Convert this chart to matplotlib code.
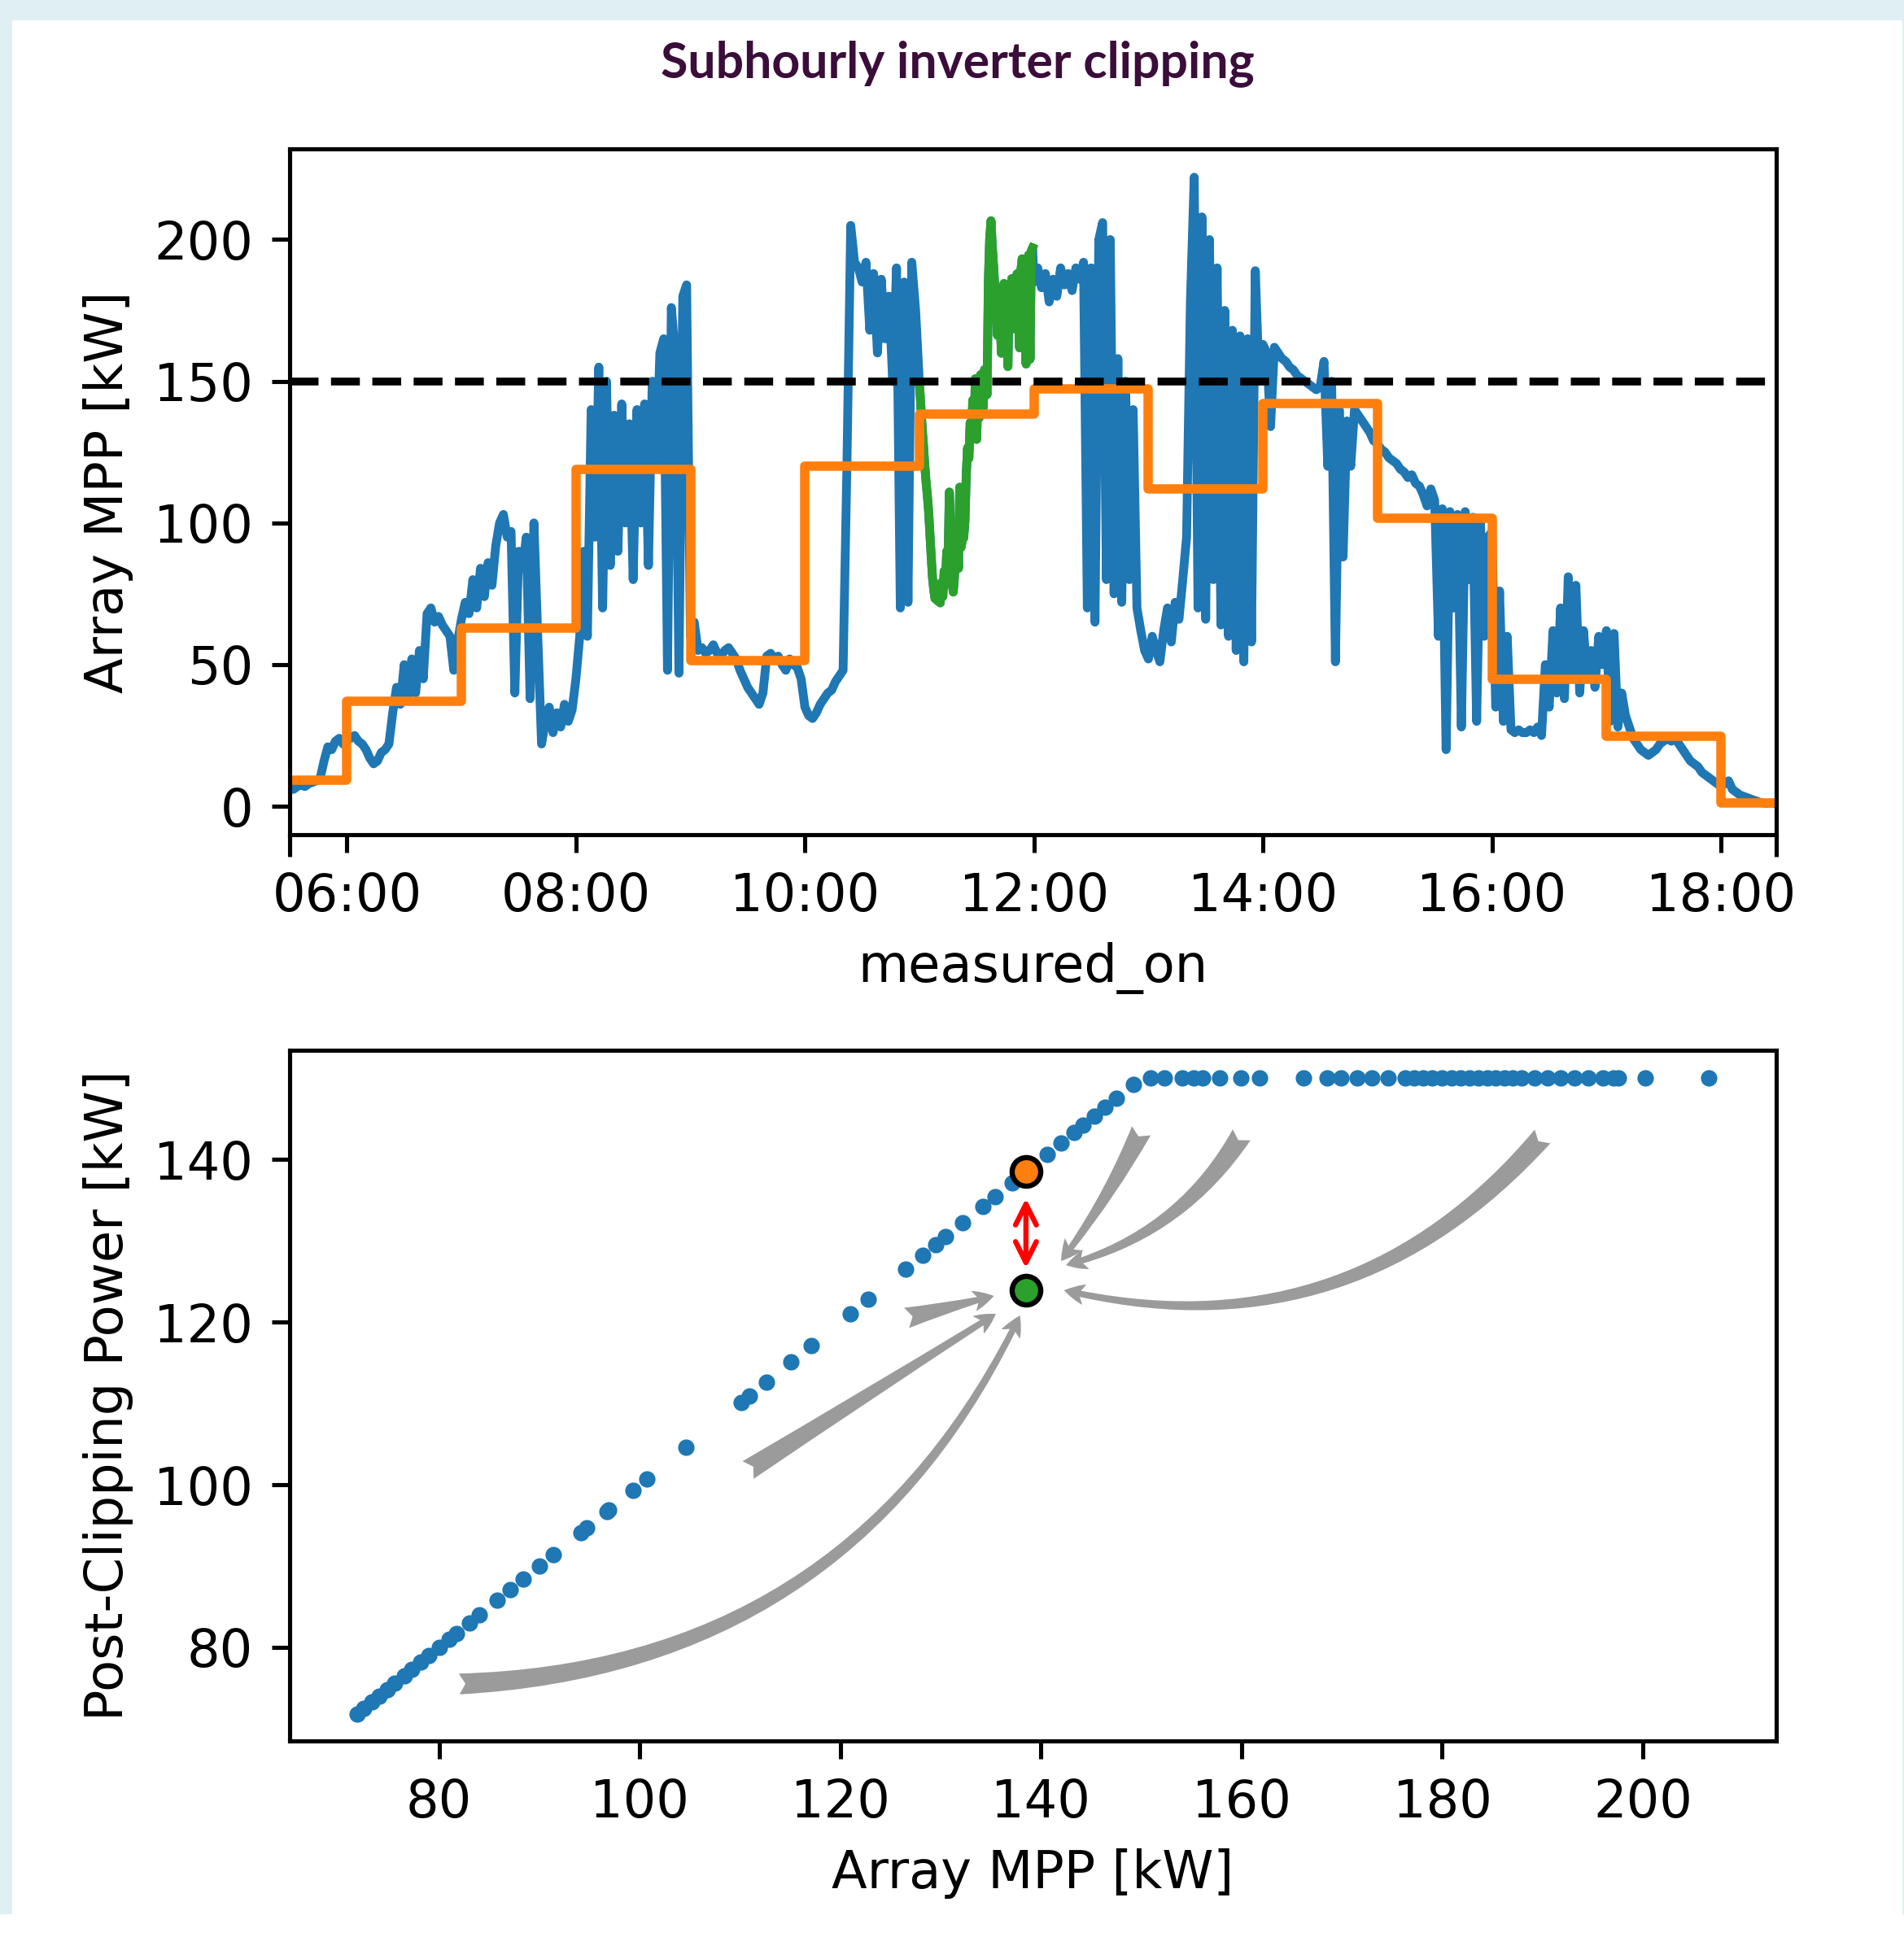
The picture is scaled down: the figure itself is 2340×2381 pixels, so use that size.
import numpy as np
import pandas as pd
import matplotlib
matplotlib.use('Agg')
import matplotlib.pyplot as plt
import matplotlib.dates as mdates
from matplotlib.patches import Rectangle
from matplotlib.ticker import NullFormatter

###_Data_###
CLIP_LIMIT = 150  # inverter AC limit [kW]

# Array MPP [kW], one sample every 2 minutes
mpp_0530 = [6.5, 6, 7, 7.5, 7, 8, 8.5, 9, 10, 16, 21, 20, 23, 24, 22]
mpp_06 = [25, 24, 25, 23, 22, 20, 17, 15, 16, 19, 20, 22, 33, 42, 36, 50, 38, 52, 40, 55,
          45, 68, 70, 65, 67, 64, 62, 60, 48, 58]
mpp_07 = [66, 72, 68, 80, 70, 84, 74, 86, 78, 92, 100, 103, 95, 97, 40, 90, 84, 95, 38, 100,
          60, 22, 30, 35, 26, 33, 28, 36, 30, 34]
mpp_08 = [45, 60, 90, 60, 140, 95, 155, 70, 150, 85, 138, 90, 142, 100, 135, 80, 140, 100, 142, 85,
          150, 120, 160, 165, 48, 176, 160, 47, 180, 184]
mpp_09 = [60, 65, 55, 56, 54, 55, 57, 54, 53, 55, 56, 54, 52, 48, 45, 42, 40, 38, 36, 40,
          53, 54, 52, 53, 50, 48, 52, 50, 49, 45]
mpp_10 = [35, 32, 31, 33, 36, 38, 40, 41, 44, 46, 48, 120, 205, 192, 190, 185, 192, 168, 188, 160,
          186, 165, 180, 150, 190, 70, 185, 72, 192, 175]
mpp_12 = [185, 190, 183, 188, 178, 186, 180, 190, 184, 188, 182, 190, 186, 192, 70, 190, 65, 200, 206, 80,
          200, 75, 158, 72, 150, 80, 140, 70, 62, 55]
mpp_13 = [52, 60, 55, 51, 62, 70, 58, 72, 66, 80, 95, 178, 222, 70, 208, 66, 200, 80, 190, 64,
          175, 60, 168, 55, 166, 51, 165, 58, 189, 150]
mpp_14 = [163, 160, 134, 162, 160, 158, 157, 155, 154, 152, 151, 150, 149, 148, 147, 148, 157, 120, 150, 51,
          140, 88, 136, 120, 140, 138, 136, 134, 132, 129]
mpp_15 = [128, 126, 125, 123, 122, 121, 119, 118, 116, 117, 114, 113, 110, 106, 112, 108, 60, 105, 20, 104,
          70, 103, 28, 104, 80, 102, 30, 100, 60, 95]
mpp_16 = [97, 35, 76, 30, 60, 27, 26, 27, 26, 26, 27, 26, 28, 25, 50, 35, 62, 40, 70, 38,
          81, 45, 78, 40, 62, 45, 55, 42, 60, 50]
mpp_17 = [62, 30, 61, 28, 40, 32, 28, 24, 22, 20, 19, 18, 19, 20, 22, 23, 24, 23, 24, 22,
          20, 18, 16, 15, 14, 12, 11, 10, 9, 8]
mpp_18 = [7, 8, 9, 6, 5, 4, 3.5, 3, 2.5, 2, 1.5, 1.2, 1.0, 1.2, 1.0]

# the highlighted hour 11:00-12:00 (finer samples), also used for the scatter
clip_hour = [149.2, 142.0, 134.2, 128.2, 121.0, 115.1, 110.1, 104.6,
             96.7, 88.4, 81.0, 76.5, 73.3, 74.8, 72.5, 77.3, 71.8, 79.0, 74.0, 83.0, 78.2, 90.0,
             85.8, 110.9, 96.9, 80.0, 75.6, 81.7, 87.1, 99.3, 84.0, 112.6, 91.4, 94.1, 94.7, 100.7,
             117.1, 126.5, 122.8, 135.4, 130.5, 143.3, 132.2, 150.9, 129.5, 146.4, 137.1, 152.3,
             144.2, 140.6, 154.1, 147.5, 145.3, 185.3, 200.2, 206.6, 197.6,
             190.5, 182.7, 176.3, 166.2, 180.0, 173.0, 159.9, 177.2, 184.5, 171.5, 178.1, 155.2,
             181.8, 174.6, 186.2, 179.0, 168.5, 183.6, 187.9, 180.9, 161.8, 189.2, 193.2, 169.9,
             191.8, 156.1, 187.0, 194.6, 157.8, 196.0, 197.1]

# hourly means (orange steps), 05:30, 06:00 ... 18:00
hourly_mean = [9.2, 37.0, 62.9, 119.0, 51.3, 120.1, 138.3, 147.4, 112.0, 142.2, 101.7, 44.8, 24.6, 1.3]

# hourly mean before / after clipping for the 11:00 hour
hour_mean_mpp = 138.5
hour_mean_clipped = 123.9

# helper arrows in the lower panel (tail -> head, curvature)
arrow_tails = [(150.0, 143.5), (160.0, 143.0), (190.0, 142.8), (126.6, 120.5), (110.8, 101.8), (82.0, 75.5)]
arrow_heads = [(142.0, 127.5), (142.5, 127.0), (142.3, 123.9), (135.3, 123.2), (135.5, 121.0), (137.9, 120.8)]
arrow_rads = [-0.05, -0.2, -0.3, 0.0, 0.0, 0.3]

###_Time index_###
day = pd.Timestamp('2019-06-20')
mpp_am = mpp_0530 + mpp_06 + mpp_07 + mpp_08 + mpp_09 + mpp_10
mpp_pm = mpp_12 + mpp_13 + mpp_14 + mpp_15 + mpp_16 + mpp_17 + mpp_18
t_am = pd.date_range(day + pd.Timedelta('5h30min'), periods=len(mpp_am), freq='2min')
t_pm = pd.date_range(day + pd.Timedelta('12h'), periods=len(mpp_pm), freq='2min')
t_clip = day + pd.Timedelta('11h') + pd.to_timedelta(np.arange(len(clip_hour)) * 60.0 / len(clip_hour), unit='min')

t_all = t_am.append(t_clip).append(t_pm)
mpp_all = np.array(mpp_am + clip_hour + mpp_pm, dtype=float)

x_start = day + pd.Timedelta('5h30min')
x_end = day + pd.Timedelta('18h29min')
edges = [x_start] + [day + pd.Timedelta(hours=h) for h in range(6, 19)] + [x_end]

###_Figure_###
W, H = 2340, 2381
DPI = 460
fig = plt.figure(figsize=(W / DPI, H / DPI), dpi=DPI, facecolor='#e0eff4')
fig.patches.append(Rectangle((15 / W, 0), (W - 17) / W, (H - 25) / H, transform=fig.transFigure,
                             facecolor='white', edgecolor='none', zorder=-10))
fig.patches.append(Rectangle((0, 0), 1, 28 / H, transform=fig.transFigure,
                             facecolor='white', edgecolor='none', zorder=-10))

fig.text(1177 / W, 1 - 95 / H, 'Subhourly inverter clipping', ha='center', va='baseline',
         fontsize=9.5, fontweight='bold', family='Lato', color='#3b0d3a')

ax1 = fig.add_axes([356 / W, 1 - 1026 / H, (2183 - 356) / W, (1026 - 183) / H])
ax2 = fig.add_axes([356 / W, 1 - 2140 / H, (2183 - 356) / W, (2140 - 1291) / H])

# top panel: time series
ax1.plot(t_all, mpp_all, color='C0', lw=1.7)
ax1.plot(t_clip, clip_hour, color='C2', lw=1.7)
ax1.step(edges, hourly_mean + [hourly_mean[-1]], where='post', color='C1', lw=1.8)
ax1.axhline(CLIP_LIMIT, color='k', ls='--', lw=1.5)
ax1.set_xlim(x_start, x_end)
ax1.set_ylim(-10, 232)
ax1.set_yticks([0, 50, 100, 150, 200])
ax1.xaxis.set_major_locator(mdates.HourLocator(byhour=range(6, 19, 2)))
ax1.xaxis.set_major_formatter(mdates.DateFormatter('%H:%M'))
ax1.set_xticks([mdates.date2num(x_start), mdates.date2num(x_end)], minor=True)
ax1.xaxis.set_minor_formatter(NullFormatter())
ax1.tick_params(axis='x', which='minor', length=4.2, width=0.8)
ax1.set_xlabel('measured_on')
ax1.set_ylabel('Array MPP [kW]')

# bottom panel: clipped vs unclipped
clip_arr = np.array(clip_hour)
ax2.scatter(clip_arr, np.minimum(clip_arr, CLIP_LIMIT), s=10, color='C0', linewidths=0, zorder=2)
for tail, head, rad in zip(arrow_tails, arrow_heads, arrow_rads):
    ax2.annotate('', xy=head, xytext=tail,
                 arrowprops=dict(arrowstyle='fancy', fc='#9b9b9b', ec='none', shrinkA=0, shrinkB=0,
                                 connectionstyle='arc3,rad=%s' % rad), zorder=3)
ax2.annotate('', xy=(hour_mean_mpp, 135.2), xytext=(hour_mean_mpp, 126.6),
             arrowprops=dict(arrowstyle='<->', color='red', lw=1.0, shrinkA=0, shrinkB=0), zorder=4)
ax2.plot([hour_mean_mpp], [hour_mean_mpp], 'o', color='C1', mec='k', ms=5.5, mew=1.0, zorder=5)
ax2.plot([hour_mean_mpp], [hour_mean_clipped], 'o', color='C2', mec='k', ms=5.5, mew=1.0, zorder=5)
ax2.set_xlim(65.1, 213.3)
ax2.set_ylim(68.5, 153.4)
ax2.set_xticks([80, 100, 120, 140, 160, 180, 200])
ax2.set_yticks([80, 100, 120, 140])
ax2.set_xlabel('Array MPP [kW]')
ax2.set_ylabel('Post-Clipping Power [kW]')

fig.savefig('out.png', dpi=DPI, facecolor=fig.get_facecolor())
